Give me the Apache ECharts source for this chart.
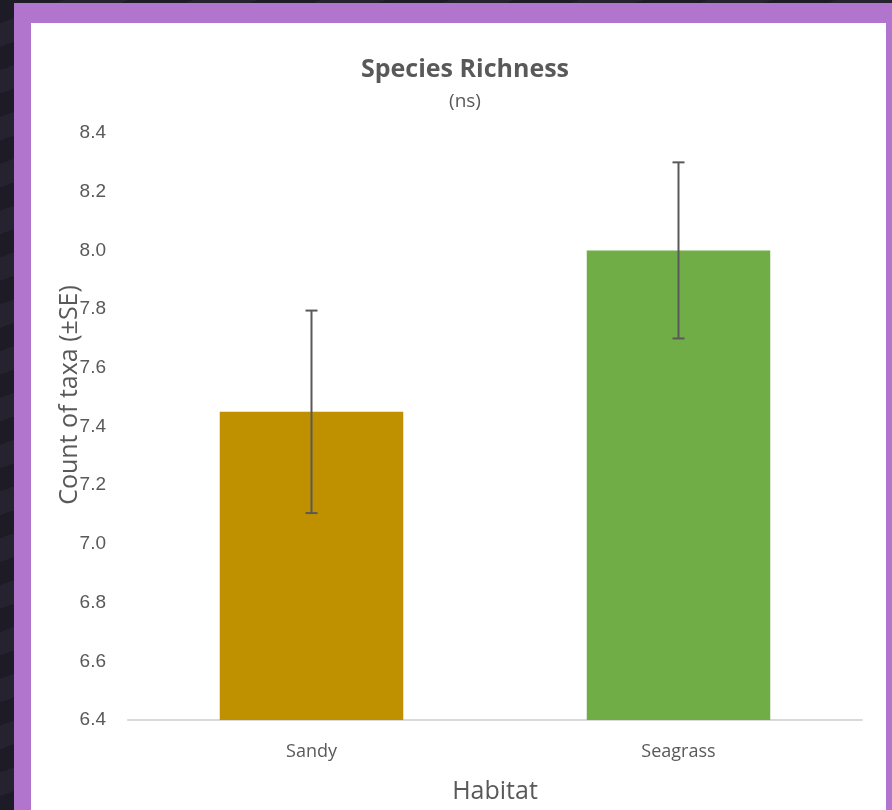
<!DOCTYPE html>
<html>
<head>
<meta charset="utf-8">
<title>Species Richness</title>
<script src="https://cdn.jsdelivr.net/npm/echarts@6/dist/echarts.min.js"></script>
<style>
  html, body { margin: 0; padding: 0; width: 892px; height: 810px; overflow: hidden; }
  body {
    background: repeating-linear-gradient(160deg, #1c1b26 0px, #1c1b26 22px, #24232f 22px, #24232f 44px);
  }
  #frame {
    position: absolute; left: 14px; top: 3px; width: 878px; height: 807px;
    background: #b175cd;
  }
  #panel {
    position: absolute; left: 31px; top: 23px; width: 855px; height: 787px;
    background: #ffffff;
  }
  #chart { position: absolute; left: 0; top: 0; width: 892px; height: 810px; }
</style>
</head>
<body>
<div id="frame"></div>
<div id="panel"></div>
<div id="chart"></div>
<script>
// Habitat categories, mean taxa counts and standard errors
const habitats = ['Sandy', 'Seagrass'];
const meanTaxa = [7.45, 8.0];
const stdErr = [0.345, 0.3];
const barColors = ['#bf9000', '#70ad47'];
const yTicks = { min: 6.4, max: 8.4, step: 0.2 };

const textColor = '#595959';
const font = '"Open Sans", "Noto Sans", sans-serif';

const chart = echarts.init(document.getElementById('chart'), null, { renderer: 'canvas' });

const errorData = habitats.map((h, i) => [i, meanTaxa[i] - stdErr[i], meanTaxa[i] + stdErr[i]]);

chart.setOption({
  backgroundColor: 'transparent',
  animation: false,
  title: {
    text: 'Species Richness',
    subtext: '(ns)',
    left: 460,
    top: 52,
    textAlign: 'center',
    itemGap: 10,
    textStyle: { fontFamily: font, fontWeight: 'bold', fontSize: 25, color: textColor },
    subtextStyle: { fontFamily: font, fontSize: 19, color: textColor }
  },
  grid: { left: 128, top: 133, width: 734, height: 587 },
  xAxis: {
    type: 'category',
    data: habitats,
    name: 'Habitat',
    nameLocation: 'middle',
    nameGap: 59,
    nameTextStyle: { fontFamily: font, fontSize: 25, color: textColor },
    axisLine: { lineStyle: { color: '#d9d9d9', width: 2 } },
    axisTick: { show: false },
    axisLabel: { fontFamily: font, fontSize: 18, color: textColor, margin: 23 }
  },
  yAxis: {
    type: 'value',
    min: yTicks.min,
    max: yTicks.max,
    interval: yTicks.step,
    axisLine: { show: false },
    axisTick: { show: false },
    splitLine: { show: false },
    axisLabel: {
      fontFamily: '"Liberation Sans", Arial, sans-serif',
      fontSize: 19,
      color: textColor,
      margin: 22,
      formatter: v => v.toFixed(1)
    }
  },
  graphic: [{
    type: 'text',
    x: 70,
    y: 395,
    rotation: Math.PI / 2,
    style: {
      text: 'Count of taxa (±SE)',
      fontFamily: font,
      fontSize: 25,
      fill: textColor,
      align: 'center',
      verticalAlign: 'middle'
    }
  }],
  series: [
    {
      type: 'bar',
      barWidth: '50%',
      data: meanTaxa.map((v, i) => ({ value: v, itemStyle: { color: barColors[i] } }))
    },
    {
      type: 'custom',
      data: errorData,
      z: 5,
      renderItem: function (params, api) {
        const x = api.value(0);
        const lo = api.coord([x, api.value(1)]);
        const hi = api.coord([x, api.value(2)]);
        const half = 6;
        const style = { stroke: '#595959', lineWidth: 2 };
        return {
          type: 'group',
          children: [
            { type: 'line', shape: { x1: hi[0], y1: hi[1], x2: lo[0], y2: lo[1] }, style },
            { type: 'line', shape: { x1: hi[0] - half, y1: hi[1], x2: hi[0] + half, y2: hi[1] }, style },
            { type: 'line', shape: { x1: lo[0] - half, y1: lo[1], x2: lo[0] + half, y2: lo[1] }, style }
          ]
        };
      }
    }
  ]
});
</script>
</body>
</html>
